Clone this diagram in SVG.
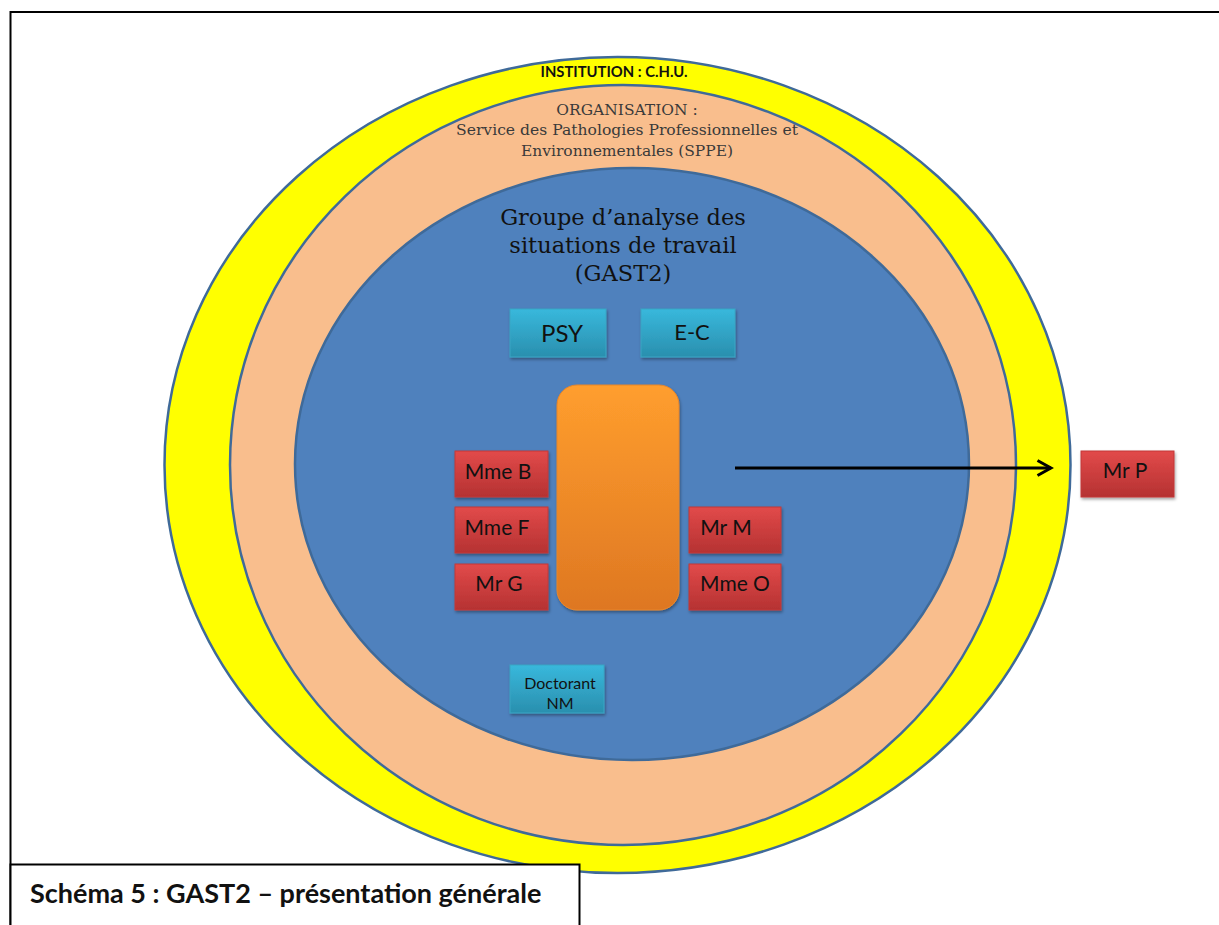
<svg xmlns="http://www.w3.org/2000/svg" width="1219" height="925" viewBox="0 0 1219 925">
<style>
.ring{stroke:#3f6a99;stroke-width:2.5}
.lbl{font-family:Lato,"Open Sans","Liberation Sans",sans-serif;fill:#111;text-anchor:middle}
.ser{font-family:"DejaVu Serif","Liberation Serif",serif;text-anchor:middle}
</style>
<defs>
<linearGradient id="gTeal" x1="0" y1="0" x2="0" y2="1"><stop offset="0" stop-color="#38b8dc"/><stop offset="1" stop-color="#2a8fae"/></linearGradient>
<linearGradient id="gRed" x1="0" y1="0" x2="0" y2="1"><stop offset="0" stop-color="#e24a4a"/><stop offset="1" stop-color="#b53232"/></linearGradient>
<linearGradient id="gOr" x1="0" y1="0" x2="0" y2="1"><stop offset="0" stop-color="#ff9e2e"/><stop offset="1" stop-color="#de7722"/></linearGradient>
<filter id="sh" x="-10%" y="-10%" width="130%" height="130%"><feDropShadow dx="1" dy="2" stdDeviation="1.5" flood-color="#000" flood-opacity="0.35"/></filter>
<marker id="arr" viewBox="0 0 12 12" refX="10" refY="6" markerWidth="6" markerHeight="6" orient="auto" markerUnits="strokeWidth"><path d="M1,1 L10,6 L1,11" fill="none" stroke="#000" stroke-width="2"/></marker>
</defs>
<rect width="1219" height="925" fill="#fff"/>
<path d="M1219,12 H10.5 V925" fill="none" stroke="#000" stroke-width="2"/>

<g id="institution">
<ellipse class="ring" cx="617.5" cy="465" rx="453" ry="408" fill="#ffff00"/>
<text x="614" y="77" font-family="Lato,'Open Sans',sans-serif" font-weight="bold" font-size="14.8" text-anchor="middle" fill="#111">INSTITUTION : C.H.U.</text>
</g>
<g id="organisation">
<ellipse class="ring" cx="623" cy="465" rx="393" ry="380" fill="#f9be8d"/>
<text class="ser" font-size="15.5" fill="#3a3a3a"><tspan x="627" y="115">ORGANISATION :</tspan><tspan x="627" y="135" textLength="342" lengthAdjust="spacingAndGlyphs">Service des Pathologies Professionnelles et</tspan><tspan x="627" y="156">Environnementales (SPPE)</tspan></text>
</g>
<g id="groupe">
<ellipse class="ring" cx="632" cy="464" rx="337" ry="296" fill="#4f81bd"/>
<text class="ser" font-size="22.5" fill="#111"><tspan x="623" y="225">Groupe d’analyse des</tspan><tspan x="623" y="253">situations de travail</tspan><tspan x="623" y="281">(GAST2)</tspan></text>
</g>

<g id="psy"><rect x="510" y="309" width="96" height="48" fill="url(#gTeal)" stroke="#3aa6c4" filter="url(#sh)"/><text class="lbl" x="562" y="342" font-size="24">PSY</text></g>
<g id="ec"><rect x="641" y="309" width="94" height="48" fill="url(#gTeal)" stroke="#3aa6c4" filter="url(#sh)"/><text class="lbl" x="692" y="340" font-size="22">E-C</text></g>
<g id="centre"><rect x="557" y="385" width="122" height="225" rx="20" fill="url(#gOr)" stroke="#e8862a" filter="url(#sh)"/></g>
<g id="mme-b"><rect x="455" y="451" width="93" height="46" fill="url(#gRed)" stroke="#c23838" filter="url(#sh)"/><text class="lbl" x="498" y="479" font-size="21">Mme B</text></g>
<g id="mme-f"><rect x="455" y="507" width="93" height="46" fill="url(#gRed)" stroke="#c23838" filter="url(#sh)"/><text class="lbl" x="497" y="535" font-size="21">Mme F</text></g>
<g id="mr-g"><rect x="455" y="564" width="93" height="46" fill="url(#gRed)" stroke="#c23838" filter="url(#sh)"/><text class="lbl" x="499" y="591" font-size="21">Mr G</text></g>
<g id="mr-m"><rect x="689" y="507" width="92" height="46" fill="url(#gRed)" stroke="#c23838" filter="url(#sh)"/><text class="lbl" x="726" y="535" font-size="21">Mr M</text></g>
<g id="mme-o"><rect x="689" y="564" width="92" height="46" fill="url(#gRed)" stroke="#c23838" filter="url(#sh)"/><text class="lbl" x="735" y="591" font-size="21">Mme O</text></g>
<g id="doctorant"><rect x="510" y="665" width="94" height="48" fill="url(#gTeal)" stroke="#3aa6c4" filter="url(#sh)"/><text class="lbl" font-size="16"><tspan x="560" y="689">Doctorant</tspan><tspan x="560" y="709">NM</tspan></text></g>
<g id="mr-p"><rect x="1081" y="451" width="93" height="46" fill="url(#gRed)" stroke="#c23838" filter="url(#sh)"/><text class="lbl" x="1125" y="478" font-size="21">Mr P</text></g>

<g id="connectors">
<line x1="735" y1="468" x2="1051" y2="468" stroke="#000" stroke-width="3" marker-end="url(#arr)"/>
</g>

<g id="caption">
<rect x="10.5" y="864.5" width="569" height="70" fill="#fff" stroke="#000" stroke-width="2"/>
<text x="30" y="903" font-family="Lato,'Open Sans',sans-serif" font-weight="bold" font-size="27" fill="#111">Schéma 5 : GAST2 – présentation générale</text>
</g>
</svg>
